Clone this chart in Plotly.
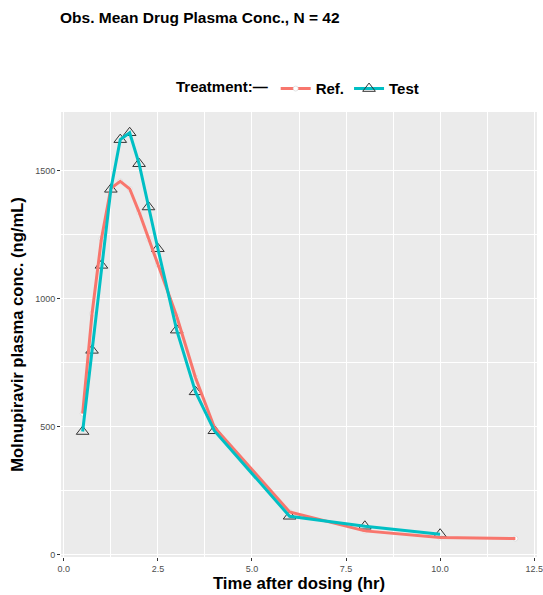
import plotly.graph_objects as go

# Mean plasma concentration by nominal time (hr) for each treatment
ref_time = [0.5, 0.75, 1.0, 1.25, 1.5, 1.75, 2.0, 2.25, 2.5, 3.0, 3.5, 4.0, 6.0, 8.0, 10.0, 12.0]
ref_conc = [550, 940, 1233, 1430, 1457, 1428, 1337, 1233, 1133, 930, 690, 497, 166, 92, 66, 62]

test_time = [0.5, 0.75, 1.0, 1.25, 1.5, 1.75, 2.0, 2.25, 2.5, 3.0, 3.5, 4.0, 6.0, 8.0, 10.0]
test_conc = [480, 797, 1129, 1426, 1620, 1647, 1526, 1357, 1194, 876, 635, 483, 149, 110, 79]

x_ticks = [0.0, 2.5, 5.0, 7.5, 10.0, 12.5]
y_ticks = [0, 500, 1000, 1500]

RED = "#F8766D"
TEAL = "#00BFC4"
FONT = "Liberation Sans, Arial, sans-serif"

fig = go.Figure()

# point markers sit underneath the connecting lines
fig.add_trace(go.Scatter(
    x=ref_time, y=ref_conc, mode="markers", showlegend=False, hoverinfo="skip",
    marker=dict(symbol="circle", size=5, color="white",
                line=dict(color="#D0D0D0", width=0.6)),
))
fig.add_trace(go.Scatter(
    x=test_time, y=test_conc, mode="markers", showlegend=False, hoverinfo="skip",
    marker=dict(symbol="triangle-up-open", size=11, color="#333333",
                line=dict(width=1)),
))
fig.add_trace(go.Scatter(
    x=ref_time, y=ref_conc, mode="lines", showlegend=False,
    line=dict(color=RED, width=3),
))
fig.add_trace(go.Scatter(
    x=test_time, y=test_conc, mode="lines", showlegend=False,
    line=dict(color=TEAL, width=3),
))

# legend-only entries combining line and marker glyphs
fig.add_trace(go.Scatter(
    x=[None], y=[None], mode="lines+markers", name="<b>Ref.</b>",
    line=dict(color=RED, width=3),
    marker=dict(symbol="circle", size=5, color="white",
                line=dict(color="#D0D0D0", width=0.6)),
))
fig.add_trace(go.Scatter(
    x=[None], y=[None], mode="lines+markers", name="<b>Test</b>",
    line=dict(color=TEAL, width=3),
    marker=dict(symbol="triangle-up-open", size=11, color="#333333",
                line=dict(width=1)),
))

axis_common = dict(
    showgrid=True, gridcolor="white", gridwidth=1.1,
    zeroline=False, showline=False, automargin=False,
    ticks="outside", ticklen=3, tickwidth=1, tickcolor="#333333",
    tickfont=dict(family=FONT, size=9, color="#4D4D4D"),
    minor=dict(showgrid=True, gridcolor="white", gridwidth=0.5),
)

fig.update_xaxes(
    **axis_common,
    range=[-0.075, 12.575],
    tickvals=x_ticks, ticktext=[f"{v:.1f}" for v in x_ticks],
    title=dict(text="<b>Time after dosing (hr)</b>", standoff=4,
               font=dict(family=FONT, size=16.8, color="black")),
)
fig.update_yaxes(
    **axis_common,
    range=[-10, 1728],
    tickvals=y_ticks, ticktext=[str(v) for v in y_ticks],
    title=dict(text="<b>Molnupiravir plasma conc. (ng/mL)</b>", standoff=7,
               font=dict(family=FONT, size=16.6, color="black")),
)
fig.update_xaxes(minor=dict(tickvals=[1.25, 3.75, 6.25, 8.75, 11.25], ticks=""))
fig.update_yaxes(minor=dict(tickvals=[250, 750, 1250], ticks=""))

fig.update_layout(
    width=543, height=595,
    margin=dict(l=61, r=6, t=112, b=38),
    paper_bgcolor="white",
    plot_bgcolor="#EBEBEB",
    font=dict(family=FONT, color="black"),
    title=dict(text="<b>Obs. Mean Drug Plasma Conc., N = 42</b>",
               x=60 / 543, xanchor="left", xref="container",
               y=1 - 18 / 595, yanchor="middle", yref="container",
               font=dict(family=FONT, size=15.5, color="black")),
    legend=dict(
        orientation="h", x=0.5, xanchor="center", y=1.015, yanchor="bottom",
        title=dict(text="<b>Treatment:—</b>", font=dict(family=FONT, size=15)),
        font=dict(family=FONT, size=15, color="black"),
        itemwidth=30, bgcolor="rgba(0,0,0,0)",
    ),
)

fig.write_html("out.html")
